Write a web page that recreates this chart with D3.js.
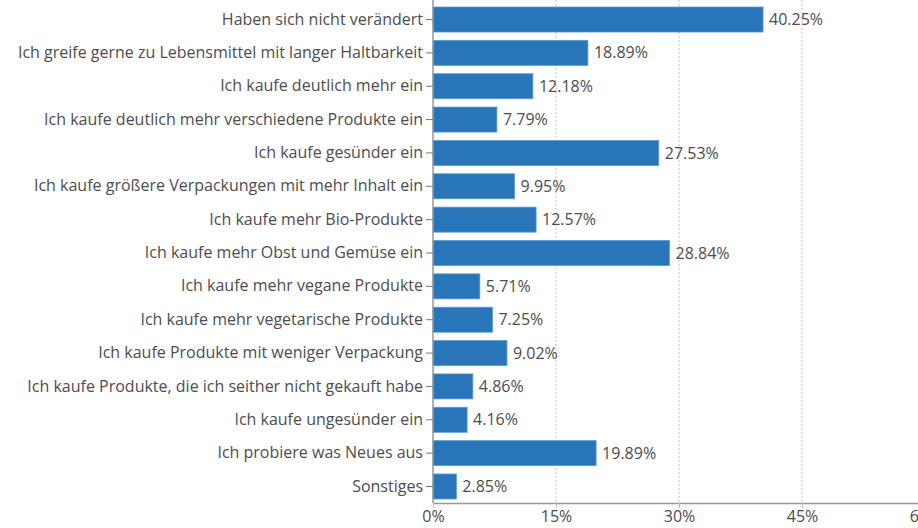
<!DOCTYPE html>
<html>
<head>
<meta charset="utf-8">
<script src="https://cdn.jsdelivr.net/npm/d3@7"></script>
<style>
    body { margin: 0; background: #fff; }
    svg text { font-family: 'Open Sans', sans-serif; }
</style>
</head>
<body>
<svg></svg>
<script>
const categories = [
    'Haben sich nicht verändert',
    'Ich greife gerne zu Lebensmittel mit langer Haltbarkeit',
    'Ich kaufe deutlich mehr ein',
    'Ich kaufe deutlich mehr verschiedene Produkte ein',
    'Ich kaufe gesünder ein',
    'Ich kaufe größere Verpackungen mit mehr Inhalt ein',
    'Ich kaufe mehr Bio-Produkte',
    'Ich kaufe mehr Obst und Gemüse ein',
    'Ich kaufe mehr vegane Produkte',
    'Ich kaufe mehr vegetarische Produkte',
    'Ich kaufe Produkte mit weniger Verpackung',
    'Ich kaufe Produkte, die ich seither nicht gekauft habe',
    'Ich kaufe ungesünder ein',
    'Ich probiere was Neues aus',
    'Sonstiges'
];
const values = [40.25, 18.89, 12.18, 7.79, 27.53, 9.95, 12.57, 28.84, 5.71, 7.25, 9.02, 4.86, 4.16, 19.89, 2.85];
const xTicks = [0, 15, 30, 45, 60];

const width = 918;
const height = 528;
const margin = { top: 3, right: -7, bottom: 25, left: 433 };

const svg = d3.select('svg')
    .attr('width', width)
    .attr('height', height);

const x = d3.scaleLinear()
    .domain([0, 60])
    .range([margin.left, width - margin.right]);

const y = d3.scaleBand()
    .domain(categories)
    .range([margin.top, height - margin.bottom])
    .paddingInner(0.25)
    .paddingOuter(0.12);

const fmt = v => `${v.toFixed(2)}%`;

// dotted grid lines
svg.append('g')
    .selectAll('line')
    .data(xTicks.slice(1))
    .enter()
    .append('line')
    .attr('x1', d => x(d))
    .attr('x2', d => x(d))
    .attr('y1', 0)
    .attr('y2', height - margin.bottom)
    .style('stroke', '#ccc')
    .style('stroke-width', 1.2)
    .style('stroke-dasharray', '2,2');

svg.append('g')
    .selectAll('rect')
    .data(values)
    .enter()
    .append('rect')
    .attr('x', x(0))
    .attr('y', (d, i) => y(categories[i]))
    .attr('width', d => x(d) - x(0))
    .attr('height', y.bandwidth())
    .style('fill', '#2876b9')
    .style('stroke', '#5b9bd0')
    .style('stroke-width', 0.8);

svg.append('g')
    .selectAll('text')
    .data(values)
    .enter()
    .append('text')
    .attr('x', d => x(d) + 6)
    .attr('y', (d, i) => y(categories[i]) + y.bandwidth() / 2)
    .attr('dy', '0.35em')
    .style('font-size', '16px')
    .style('fill', '#4d4d4d')
    .text(fmt);

const yAxis = svg.append('g')
    .attr('transform', `translate(${x(0)},0)`)
    .call(d3.axisLeft(y).tickSize(7).tickPadding(3).tickSizeOuter(0));

yAxis.select('.domain')
    .attr('d', `M0,0V${height - margin.bottom}`)
    .style('stroke', '#999')
    .style('stroke-width', 1.5);
yAxis.selectAll('.tick line').style('stroke', '#777');
yAxis.selectAll('.tick text')
    .style('font-size', '16px')
    .style('fill', '#4d4d4d');

const xAxis = svg.append('g')
    .attr('transform', `translate(0,${height - margin.bottom})`)
    .call(d3.axisBottom(x).tickValues(xTicks).tickFormat(d => `${d}%`).tickSize(5).tickPadding(3).tickSizeOuter(0));

xAxis.select('.domain')
    .style('stroke', '#999')
    .style('stroke-width', 1.5);
xAxis.selectAll('.tick line').style('stroke', '#bbb');
xAxis.selectAll('.tick text')
    .style('font-size', '16px')
    .style('fill', '#4d4d4d');
</script>
</body>
</html>
